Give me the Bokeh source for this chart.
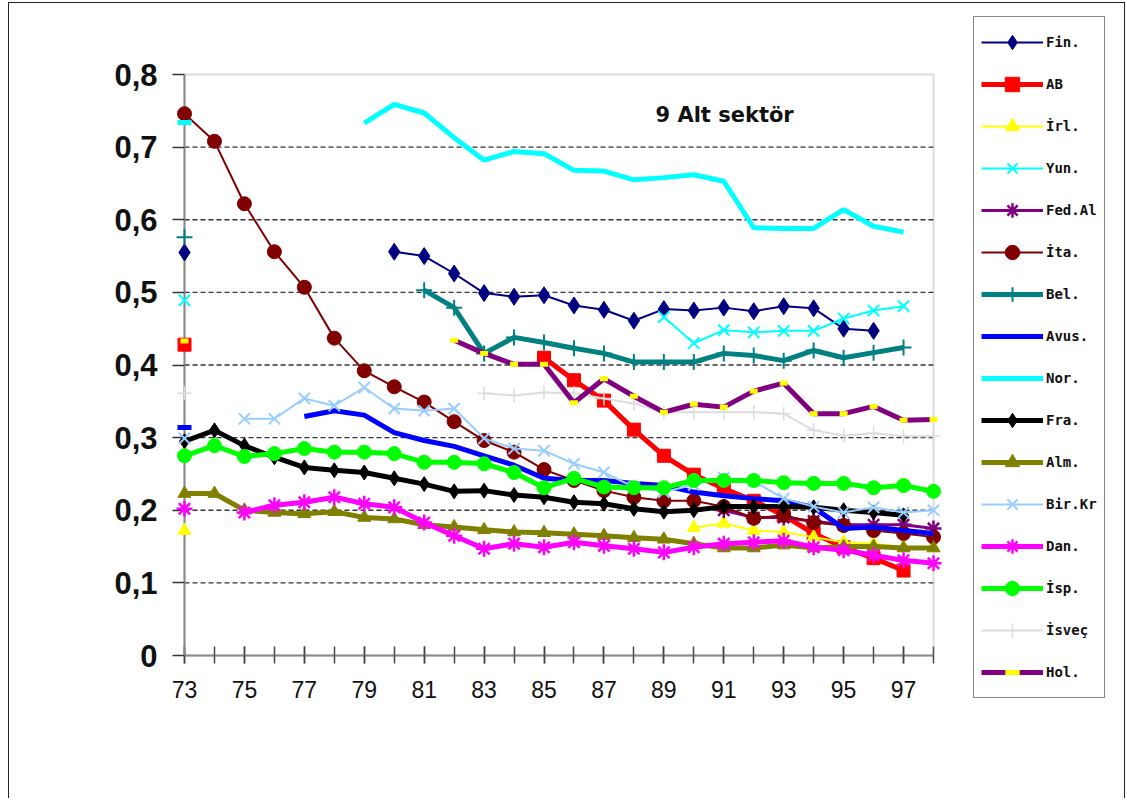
import numpy as np
from bokeh.plotting import figure
from bokeh.models import (FixedTicker, CustomJSTickFormatter, Legend, LegendItem,
                          Label, ColumnDataSource, Range1d, BoxAnnotation)
from bokeh.embed import file_html
from bokeh.resources import INLINE

N = float("nan")

# ---------------- data ----------------
years = list(range(73, 99))
x_ticks = [73, 75, 77, 79, 81, 83, 85, 87, 89, 91, 93, 95, 97]
x_tick_labels = ["73", "75", "77", "79", "81", "83", "85", "87", "89", "91", "93", "95", "97"]
y_ticks = [0, 0.1, 0.2, 0.3, 0.4, 0.5, 0.6, 0.7, 0.8]
y_tick_labels = ["0", "0,1", "0,2", "0,3", "0,4", "0,5", "0,6", "0,7", "0,8"]

fin = [0.555, N, N, N, N, N, N, 0.556, 0.550, 0.526, 0.499, 0.494, 0.496, 0.482, 0.476,
       0.461, 0.477, 0.475, 0.479, 0.474, 0.481, 0.478, 0.450, 0.447, N, N]
ab = [0.428, N, N, N, N, N, N, N, N, N, N, N, 0.410, 0.379, 0.351, 0.311, 0.275, 0.249,
      0.230, 0.213, 0.193, 0.168, 0.149, 0.134, 0.117, N]
irl = [0.172, N, N, N, N, N, N, N, N, N, N, N, N, N, N, N, N, 0.176, 0.182, 0.172, 0.170,
       0.163, 0.156, 0.154, 0.149, 0.149]
yun = [0.489, N, N, N, N, N, N, N, N, N, N, N, N, N, N, N, 0.466, 0.430, 0.448, 0.445,
       0.447, 0.447, 0.464, 0.475, 0.481, N]
fedal = [N, N, N, N, N, N, N, N, N, N, N, N, N, N, N, N, N, N, 0.200, 0.190, 0.190, 0.185,
         0.180, 0.180, 0.180, 0.175]
ita = [0.746, 0.708, 0.622, 0.556, 0.507, 0.437, 0.392, 0.370, 0.349, 0.322, 0.296, 0.280,
       0.256, 0.241, 0.227, 0.218, 0.213, 0.213, 0.205, 0.189, 0.193, 0.183, 0.179, 0.172,
       0.168, 0.163]
bel = [0.576, N, N, N, N, N, N, N, 0.503, 0.479, 0.416, 0.438, 0.431, 0.423, 0.416, 0.404,
       0.404, 0.404, 0.416, 0.413, 0.406, 0.420, 0.410, 0.417, 0.424, N]
avus = [0.314, N, N, N, 0.329, 0.337, 0.331, 0.307, 0.296, 0.288, 0.275, 0.262, 0.244,
        0.241, 0.241, 0.237, 0.234, 0.225, 0.220, 0.216, 0.213, 0.204, 0.175, 0.177, 0.172,
        0.168]
nor = [0.734, N, N, N, N, N, 0.733, 0.759, 0.747, 0.713, 0.682, 0.694, 0.691, 0.668, 0.667,
       0.655, 0.658, 0.662, 0.653, 0.589, 0.588, 0.588, 0.614, 0.591, 0.583, N]
fra = [0.295, 0.310, 0.289, 0.273, 0.259, 0.255, 0.252, 0.244, 0.236, 0.226, 0.227, 0.221,
       0.218, 0.211, 0.209, 0.202, 0.198, 0.200, 0.205, 0.205, 0.205, 0.204, 0.200, 0.197,
       0.193, N]
alm = [0.223, 0.223, 0.200, 0.197, 0.195, 0.198, 0.190, 0.188, 0.180, 0.177, 0.173, 0.170,
       0.169, 0.167, 0.165, 0.162, 0.160, 0.154, 0.148, 0.148, 0.152, 0.148, 0.150, 0.150,
       0.148, 0.148]
birkr = [0.299, N, 0.326, 0.326, 0.354, 0.344, 0.369, 0.340, 0.337, 0.340, 0.299, 0.285,
         0.282, 0.264, 0.252, 0.232, 0.225, 0.235, 0.245, 0.240, 0.216, 0.205, 0.197, 0.204,
         0.197, 0.200]
dan = [0.202, N, 0.197, 0.207, 0.211, 0.218, 0.209, 0.204, 0.183, 0.165, 0.147, 0.154,
       0.149, 0.156, 0.151, 0.147, 0.142, 0.149, 0.154, 0.156, 0.158, 0.149, 0.145, 0.138,
       0.131, 0.127]
isp = [0.275, 0.289, 0.274, 0.278, 0.285, 0.280, 0.280, 0.278, 0.266, 0.266, 0.264, 0.252,
       0.231, 0.244, 0.232, 0.231, 0.231, 0.241, 0.241, 0.241, 0.238, 0.237, 0.237, 0.231,
       0.234, 0.226]
isvec = [0.361, N, N, N, N, N, N, N, N, N, 0.361, 0.358, 0.362, 0.361, 0.354, 0.347, 0.335,
         0.335, 0.335, 0.335, 0.333, 0.310, 0.303, 0.306, 0.302, 0.302]
hol = [0.433, N, N, N, N, N, N, N, N, 0.434, 0.416, 0.401, 0.401, 0.348, 0.381, 0.357,
       0.335, 0.346, 0.342, 0.364, 0.375, 0.333, 0.333, 0.343, 0.324, 0.325]

# ---------------- styles ----------------
# name, values, line colour, line width, marker, marker size, marker fill, marker line, marker line width
styles = [
    ("Fin.", fin, "#000080", 2, "diamond", 17, "#000080", "#000080", 1),
    ("AB", ab, "#ff0000", 5, "square", 13, "#ff0000", "#ff0000", 1),
    ("İrl.", irl, "#ffff00", 2, "triangle", 13, "#ffff00", "#ffff00", 1),
    ("Yun.", yun, "#00ffff", 2, "x", 16, None, "#00ffff", 2),
    ("Fed.Al", fedal, "#800080", 3, "asterisk", 16, None, "#800080", 2.5),
    ("İta.", ita, "#800000", 2, "circle", 14, "#800000", "#800000", 1),
    ("Bel.", bel, "#008080", 5, "cross", 16, None, "#008080", 2),
    ("Avus.", avus, "#0000ff", 5, None, 0, None, None, 0),
    ("Nor.", nor, "#00ffff", 5, None, 0, None, None, 0),
    ("Fra.", fra, "#000000", 5, "diamond", 15, "#000000", "#000000", 1),
    ("Alm.", alm, "#808000", 5, "triangle", 13, "#808000", "#808000", 1),
    ("Bir.Kr", birkr, "#99ccff", 2, "x", 16, None, "#99ccff", 2),
    ("Dan.", dan, "#ff00ff", 5, "asterisk", 16, None, "#ff00ff", 2.5),
    ("İsp.", isp, "#00ff00", 5, "circle", 14, "#00ff00", "#00ff00", 1),
    ("İsveç", isvec, "#dddddd", 2, "cross", 14, None, "#dddddd", 1.5),
    ("Hol.", hol, "#800080", 5, "dash", 8, None, "#ffff00", 5),
]

# ---------------- layout (pixels inside the figure) ----------------
W, H = 1117, 796
X0, X1 = 73, 98          # plot-area x extent (data)
Y0, Y1 = 0.0, 0.8        # plot-area y extent (data)
area_l, area_r, area_t, area_b = 175, 924, 71, 652   # plot area in figure pixels
fr_l, fr_r, fr_t, fr_b = 90, 1105, 10, 705           # frame (also hosts the legend)
kx = (area_r - area_l) / (X1 - X0)
ky = (area_b - area_t) / (Y1 - Y0)
x_start = X0 - (area_l - fr_l) / kx
x_end = X1 + (fr_r - area_r) / kx
y_end = Y1 + (area_t - fr_t) / ky
y_start = Y0 - (fr_b - area_b) / ky

p = figure(width=W, height=H, x_range=Range1d(x_start, x_end), y_range=Range1d(y_start, y_end),
           output_backend="svg", toolbar_location=None)
p.title.visible = False
p.min_border_left = fr_l
p.min_border_right = W - fr_r
p.min_border_top = fr_t
p.min_border_bottom = H - fr_b
p.background_fill_color = "white"
p.border_fill_color = "white"
p.outline_line_color = None
p.styles = {"margin-left": "8px", "margin-top": "2px", "border-left": "1px solid #222222",
            "border-top": "1px solid #222222", "border-right": "1px solid #222222"}

# dashed value grid confined to the plot area
p.grid.visible = False
gy = y_ticks[1:-1]
p.segment(x0=[X0] * len(gy), x1=[X1] * len(gy), y0=gy, y1=gy,
          line_color="#333333", line_dash="5 3", line_width=1.3, level="underlay")
p.add_layout(BoxAnnotation(left=X0, right=X1, bottom=Y0, top=Y1, fill_color=None,
                           line_color="#8a8a8a", line_width=2, level="underlay"))

xa = p.xaxis[0]
xa.level = "underlay"
xa.fixed_location = Y0
xa.bounds = (X0, X1)
xa.ticker = FixedTicker(ticks=x_ticks, minor_ticks=years)
xa.formatter = CustomJSTickFormatter(args=dict(xvals=x_ticks, xlabels=x_tick_labels),
                                     code="const i = xvals.indexOf(Math.round(tick)); return i >= 0 ? xlabels[i] : '';")
xa.axis_line_color = "#8a8a8a"
xa.axis_line_width = 2
xa.major_tick_line_color = "#444444"
xa.minor_tick_line_color = "#444444"
xa.major_tick_line_width = 1.5
xa.minor_tick_line_width = 1.5
xa.major_tick_in = 9
xa.major_tick_out = 8
xa.minor_tick_in = 9
xa.minor_tick_out = 8
xa.major_label_standoff = 17
xa.major_label_text_font = "Liberation Sans"
xa.major_label_text_font_size = "23px"
xa.major_label_text_color = "#111111"

ya = p.yaxis[0]
ya.level = "underlay"
ya.fixed_location = X0
ya.bounds = (Y0, Y1)
ya.ticker = FixedTicker(ticks=y_ticks)
ya.formatter = CustomJSTickFormatter(args=dict(ylabels=y_tick_labels),
                                     code="return ylabels[Math.round(tick * 10)];")
ya.axis_line_color = "#8a8a8a"
ya.axis_line_width = 2
ya.major_tick_line_color = "#333333"
ya.major_tick_line_width = 1.5
ya.major_tick_in = 0
ya.major_tick_out = 12
ya.minor_tick_in = 0
ya.minor_tick_out = 0
ya.major_label_standoff = 15
ya.major_label_text_font = "Liberation Sans"
ya.major_label_text_font_style = "bold"
ya.major_label_text_font_size = "31px"
ya.major_label_text_color = "#111111"

items = []
for name, vals, col, lw, mk, ms, mfill, mline, mlw in styles:
    arr = np.array(vals, dtype=float)
    src = ColumnDataSource(dict(x=np.array(years, dtype=float), y=arr))
    rs = [p.line("x", "y", source=src, line_color=col, line_width=lw)]
    if mk is not None:
        rs.append(p.scatter("x", "y", source=src, marker=mk, size=ms,
                            fill_color=mfill, line_color=mline, line_width=mlw))
    else:
        # isolated single values of a line-only series show as a short stroke
        ok = np.isfinite(arr)
        prev_ok = np.concatenate([[False], ok[:-1]])
        next_ok = np.concatenate([ok[1:], [False]])
        iso = np.where(ok & ~prev_ok & ~next_ok, arr, np.nan)
        isrc = ColumnDataSource(dict(x=np.array(years, dtype=float), y=iso))
        p.scatter("x", "y", source=isrc, marker="dash", size=14, line_color=col, line_width=lw)
    items.append(LegendItem(label=name, renderers=rs))

# legend box: left edge at 964 px, bottom edge at 695 px (figure pixels)
legend = Legend(items=items, location=(964 - fr_l, fr_b - 695), margin=0, padding=7,
                spacing=6, glyph_width=62, glyph_height=36, label_height=20,
                label_standoff=3, label_text_font="DejaVu Sans Mono",
                label_text_font_style="bold", label_text_font_size="14px",
                label_text_color="#111111", border_line_color="#111111",
                border_line_width=1.5, background_fill_color="white",
                background_fill_alpha=1.0)
p.add_layout(legend, "center")

# ---------------- texts ----------------
p.add_layout(Label(x=88.72, y=0.7438, text="9 Alt sektör", text_font="DejaVu Sans",
                   text_font_style="bold", text_font_size="21px", text_baseline="middle",
                   text_color="#111111"))
p.add_layout(Label(x=67.36, y=0.4848, text="KEP /", text_font="DejaVu Sans",
                   text_font_style="bold", text_font_size="21px", text_baseline="middle",
                   text_color="#111111"))
p.add_layout(Label(x=67.36, y=0.438, text="ECU 90", text_font="DejaVu Sans",
                   text_font_style="bold", text_font_size="21px", text_baseline="middle",
                   text_color="#111111"))

open("out.html", "w").write(file_html(p, INLINE))
